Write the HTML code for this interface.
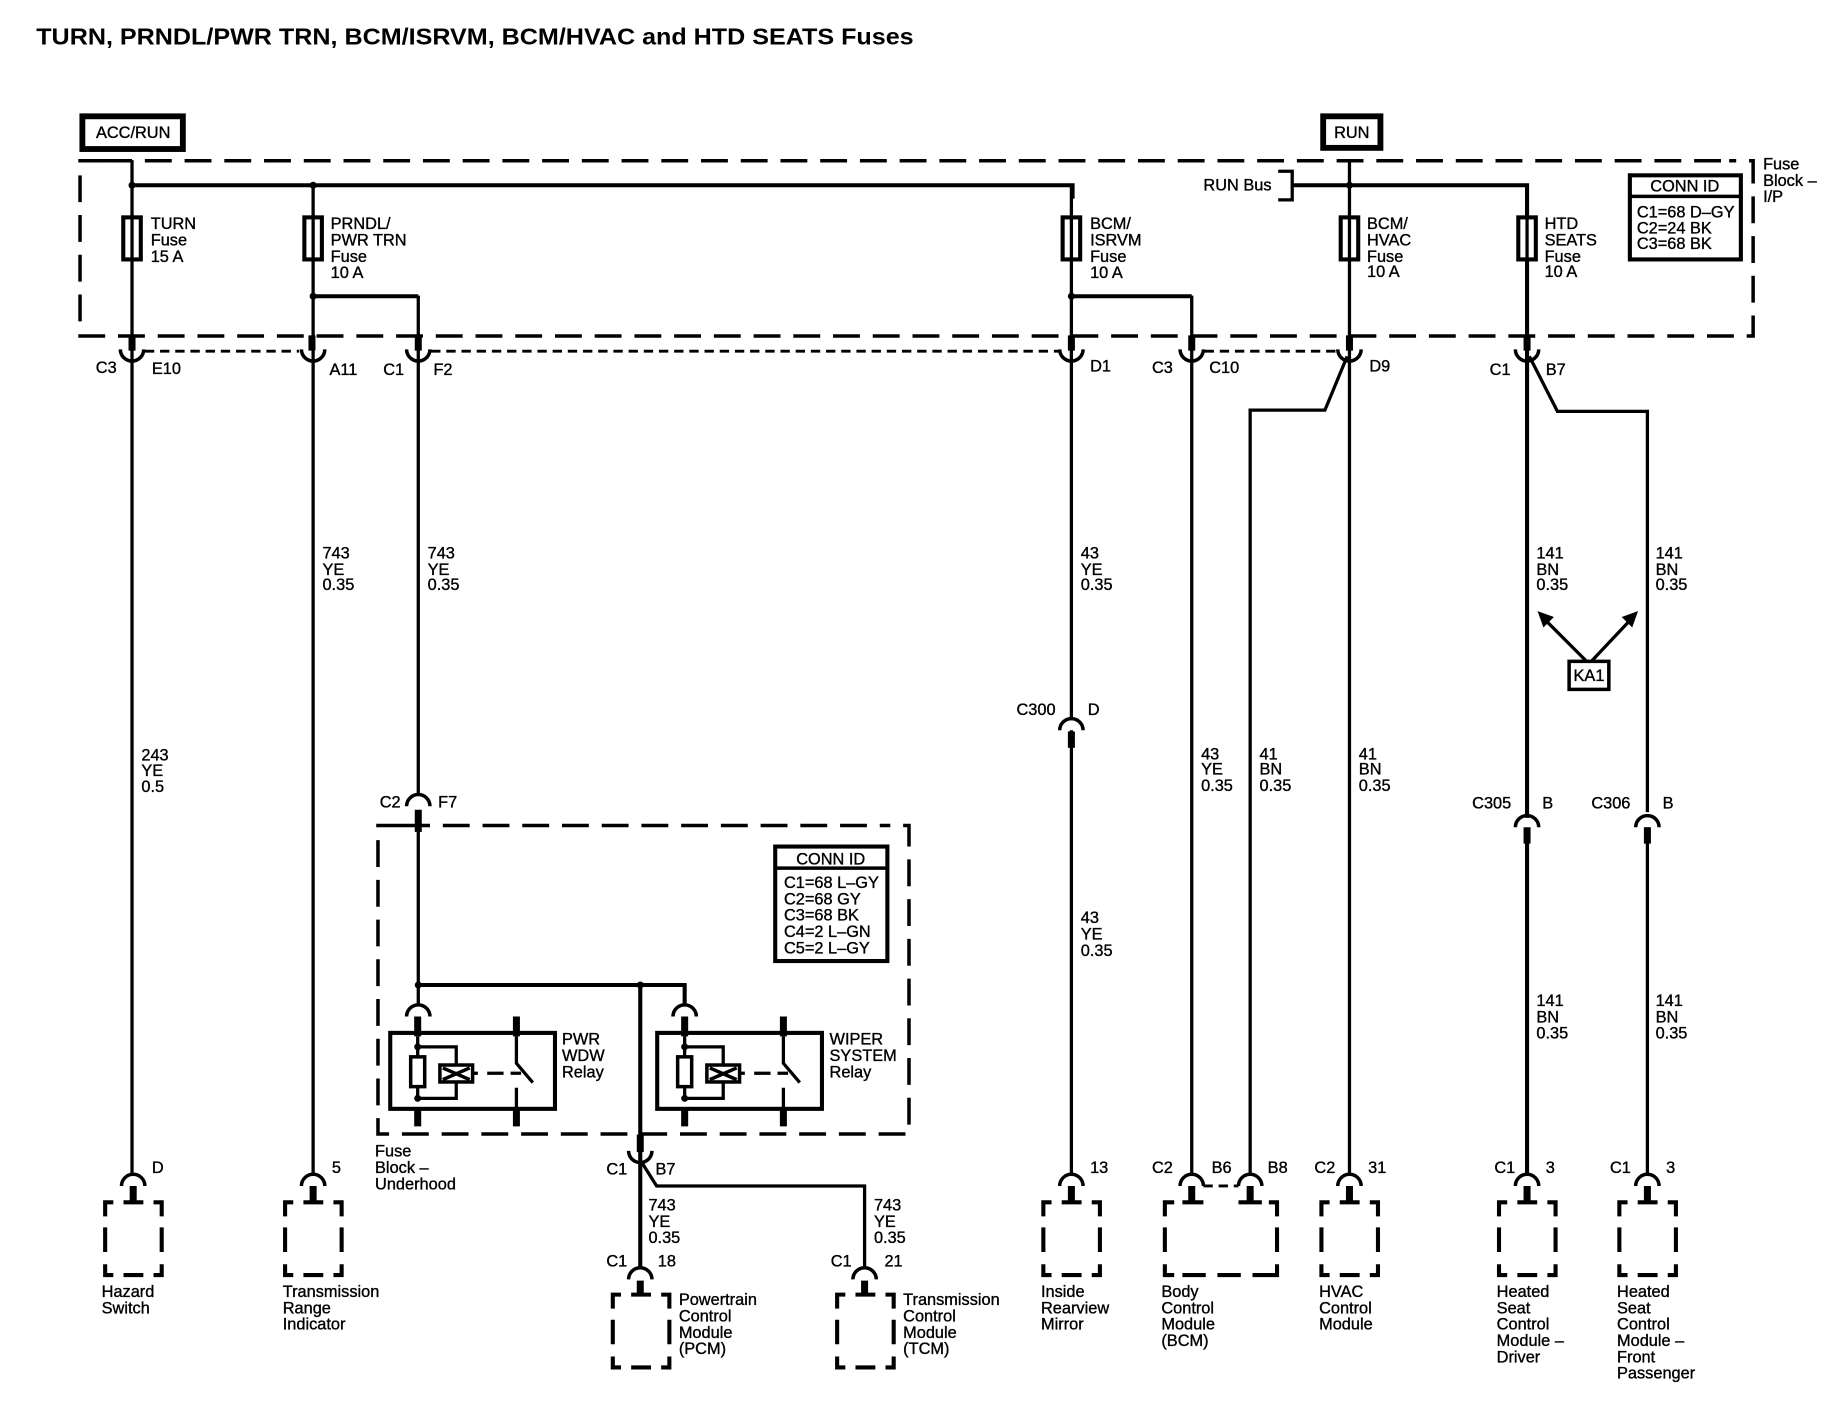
<!DOCTYPE html>
<html><head><meta charset="utf-8"><title>Fuses</title>
<style>
html,body{margin:0;padding:0;background:#fff}
svg{display:block;position:absolute;left:0;top:0}
text{font-family:"Liberation Sans",sans-serif;font-size:14px;fill:#000;stroke:#000;stroke-width:.3}
.w{fill:none;stroke:#000;stroke-width:2.8}
.k{fill:none;stroke:#000;stroke-width:3.5}
.d{fill:none;stroke:#000;stroke-width:3;stroke-dasharray:23 11}
.s{fill:none;stroke:#000;stroke-width:6}
.sd{fill:none;stroke:#000;stroke-width:2.5;stroke-dasharray:8 5}
</style></head><body>
<svg width="1832" height="1408" viewBox="0 0 1568 1205" xmlns="http://www.w3.org/2000/svg">
<defs>
<g id="fuse"><rect x="-7.5" y="186" width="15" height="36" fill="#fff" stroke="#000" stroke-width="3.5"/><path d="M0,186V222" class="w"/></g>
<g id="cup"><path d="M-10,0A10,10 0 0 0 10,0" fill="none" stroke="#000" stroke-width="3"/></g>
<g id="arch"><path d="M-10,10A10,10 0 0 1 10,10" fill="none" stroke="#000" stroke-width="3"/></g>
<g id="box"><path class="k" d="M0,12V0H7M15.700,0H32.700M41.400,0H48.400V12M0,21.500V42.500M48.400,21.500V42.500M0,53V62.300H7M15.700,62.300H32.700M41.400,62.300H48.400V53"/></g>
<g id="relay">
<rect x="0" y="0" width="141" height="65" fill="none" stroke="#000" stroke-width="3.5"/>
<path class="s" d="M23.5,-14V3M23.5,65V80M108,-14V3M108,65V80"/>
<path class="w" d="M23.5,3V56M23.5,12H56.5V27M56.5,42V56H23.5M108,3V26L122,42.5M108,47V65"/>
<circle cx="23.5" cy="12" r="3"/><circle cx="23.5" cy="56" r="3"/>
<rect x="17.5" y="20.5" width="12" height="25.5" fill="#fff" stroke="#000" stroke-width="3"/>
<rect x="42.5" y="27.5" width="28" height="14.5" fill="#fff" stroke="#000" stroke-width="3"/>
<path d="M45,30L68,40M45,40L68,30" stroke="#000" stroke-width="3"/>
<path d="M70,34.5H75M83,34.5H97M103,34.5H112" class="w"/>
</g>
</defs>

<text x="31" y="38" style="font-size:20px;font-weight:bold;stroke:none" textLength="751" lengthAdjust="spacingAndGlyphs">TURN, PRNDL/PWR TRN, BCM/ISRVM, BCM/HVAC and HTD SEATS Fuses</text>

<rect x="70.5" y="99.5" width="86" height="28" fill="none" stroke="#000" stroke-width="5"/>
<text x="114" y="118" text-anchor="middle">ACC/RUN</text>
<rect x="1132.5" y="99.5" width="49" height="27" fill="none" stroke="#000" stroke-width="5"/>
<text x="1157" y="118" text-anchor="middle">RUN</text>

<path class="d" d="M90,137.5H68.5V287.5H1500.5V137.5H1480M90,137.5H1480"/>
<text x="1509" y="145">Fuse</text><text x="1509" y="159">Block –</text><text x="1509" y="173">I/P</text>

<path class="w" d="M113,137V1005M268,158V1005M358,253V680M917,158V615M917,625V1005M1020,253V1005M1155,137V1005M1070,1005V351H1134L1153,305"/>
<path class="w" d="M1309,305L1333,352H1410V695M1410,708V1005"/>
<path class="w" style="stroke-width:3.5" d="M113,158.5H918V170M268,253.5H358M917,253.5H1020M1107,158.5H1307V190"/>
<path class="k" d="M1307,190V700M1307,715V1005"/>
<path class="w" d="M1094,146.5H1106V171H1094"/>
<text x="1030" y="163">RUN Bus</text>
<g fill="#000"><circle cx="113" cy="158.5" r="3"/><circle cx="268" cy="158.5" r="3"/><circle cx="268" cy="253.5" r="3"/><circle cx="917" cy="253.5" r="3"/><circle cx="1155" cy="158.5" r="3"/><circle cx="358" cy="843" r="3"/><circle cx="548" cy="843" r="3"/></g>

<use href="#fuse" x="113"/><use href="#fuse" x="268"/><use href="#fuse" x="917"/><use href="#fuse" x="1155"/><use href="#fuse" x="1307"/>
<text x="129" y="196">TURN</text><text x="129" y="210">Fuse</text><text x="129" y="224">15 A</text>
<text x="283" y="196">PRNDL/</text><text x="283" y="210">PWR TRN</text><text x="283" y="224">Fuse</text><text x="283" y="238">10 A</text>
<text x="933" y="196">BCM/</text><text x="933" y="210">ISRVM</text><text x="933" y="224">Fuse</text><text x="933" y="238">10 A</text>
<text x="1170" y="196">BCM/</text><text x="1170" y="210">HVAC</text><text x="1170" y="224">Fuse</text><text x="1170" y="237">10 A</text>
<text x="1322" y="196">HTD</text><text x="1322" y="210">SEATS</text><text x="1322" y="224">Fuse</text><text x="1322" y="237">10 A</text>

<rect x="1395" y="150" width="95" height="72" fill="#fff" stroke="#000" stroke-width="3.5"/>
<path d="M1395,168H1490" stroke="#000" stroke-width="3"/>
<text x="1442" y="164" text-anchor="middle">CONN ID</text>
<text x="1401" y="186">C1=68 D–GY</text><text x="1401" y="200">C2=24 BK</text><text x="1401" y="213">C3=68 BK</text>

<path class="s" d="M113,287V300M267,287V300M358,287V300M917,287V300M1020,287V300M1155,287V300M1307,287V300"/>
<path class="sd" d="M124,300.5H256M369,300.5H906M1031,300.5H1144"/>
<use href="#cup" x="113" y="299"/><use href="#cup" x="268" y="299"/><use href="#cup" x="358" y="299"/><use href="#cup" x="917" y="299"/><use href="#cup" x="1020" y="299"/><use href="#cup" x="1155" y="299"/><use href="#cup" x="1307" y="299"/>
<text x="82" y="319">C3</text><text x="130" y="320">E10</text><text x="282" y="321">A11</text><text x="328" y="321">C1</text><text x="371" y="321">F2</text><text x="933" y="318">D1</text><text x="986" y="319">C3</text><text x="1035" y="319">C10</text><text x="1172" y="318">D9</text><text x="1275" y="321">C1</text><text x="1323" y="321">B7</text>

<text x="121" y="651">243</text><text x="121" y="664">YE</text><text x="121" y="678">0.5</text>
<text x="276" y="478">743</text><text x="276" y="492">YE</text><text x="276" y="505">0.35</text>
<text x="366" y="478">743</text><text x="366" y="492">YE</text><text x="366" y="505">0.35</text>
<text x="925" y="478">43</text><text x="925" y="492">YE</text><text x="925" y="505">0.35</text>
<text x="1315" y="478">141</text><text x="1315" y="492">BN</text><text x="1315" y="505">0.35</text>
<text x="1417" y="478">141</text><text x="1417" y="492">BN</text><text x="1417" y="505">0.35</text>
<text x="1028" y="650">43</text><text x="1028" y="663">YE</text><text x="1028" y="677">0.35</text>
<text x="1078" y="650">41</text><text x="1078" y="663">BN</text><text x="1078" y="677">0.35</text>
<text x="1163" y="650">41</text><text x="1163" y="663">BN</text><text x="1163" y="677">0.35</text>
<text x="925" y="790">43</text><text x="925" y="804">YE</text><text x="925" y="818">0.35</text>
<text x="1315" y="861">141</text><text x="1315" y="875">BN</text><text x="1315" y="889">0.35</text>
<text x="1417" y="861">141</text><text x="1417" y="875">BN</text><text x="1417" y="889">0.35</text>

<rect x="1343" y="566" width="34" height="24" fill="#fff" stroke="#000" stroke-width="3"/>
<text x="1360" y="583" text-anchor="middle">KA1</text>
<path class="w" d="M1358,566L1323,531M1362,566L1395,531"/>
<path d="M1316,523L1330,528L1321,537ZM1402,523L1388,528L1397,537Z" fill="#000"/>

<use href="#arch" x="917" y="615"/><path class="s" d="M917,626V640"/>
<text x="870" y="612">C300</text><text x="931" y="612">D</text>
<use href="#arch" x="1307" y="698"/><path class="s" d="M1307,708V722"/>
<use href="#arch" x="1410" y="698"/><path class="s" d="M1410,708V722"/>
<text x="1260" y="692">C305</text><text x="1320" y="692">B</text><text x="1362" y="692">C306</text><text x="1423" y="692">B</text>
<use href="#arch" x="358" y="680"/><path class="s" d="M358,693V712"/>
<text x="325" y="691">C2</text><text x="375" y="691">F7</text>

<path class="d" d="M345,706.5H323.5V970.5H778V706.5H760M345,706.5H760"/>
<text x="321" y="990">Fuse</text><text x="321" y="1004">Block –</text><text x="321" y="1018">Underhood</text>
<rect x="663.5" y="724.5" width="96" height="98" fill="#fff" stroke="#000" stroke-width="3.5"/>
<path d="M663.5,743H759.5" stroke="#000" stroke-width="3"/>
<text x="711" y="740" text-anchor="middle">CONN ID</text>
<text x="671" y="760">C1=68 L–GY</text><text x="671" y="774">C2=68 GY</text><text x="671" y="788">C3=68 BK</text><text x="671" y="802">C4=2 L–GN</text><text x="671" y="816">C5=2 L–GY</text>

<path class="w" d="M358,712V860"/>
<path class="w" style="stroke-width:3.5" d="M358,843H586V860M548,843V1085"/>
<use href="#arch" x="358" y="860"/><use href="#arch" x="586" y="860"/>
<use href="#relay" x="334" y="884"/><use href="#relay" x="562.500" y="884"/>
<text x="481" y="894">PWR</text><text x="481" y="908">WDW</text><text x="481" y="922">Relay</text>
<text x="710" y="894">WIPER</text><text x="710" y="908">SYSTEM</text><text x="710" y="922">Relay</text>

<path class="s" d="M548,971V986"/>
<use href="#cup" x="548" y="985"/>
<path class="w" d="M550,996L562,1015H740V1085"/>
<text x="519" y="1005">C1</text><text x="561" y="1005">B7</text>
<text x="555" y="1036">743</text><text x="555" y="1050">YE</text><text x="555" y="1064">0.35</text>
<text x="748" y="1036">743</text><text x="748" y="1050">YE</text><text x="748" y="1064">0.35</text>
<text x="519" y="1084">C1</text><text x="563" y="1084">18</text><text x="711" y="1084">C1</text><text x="757" y="1084">21</text>

<g>
<use href="#arch" x="114" y="1005"/><use href="#arch" x="268" y="1005"/><use href="#arch" x="917" y="1005"/><use href="#arch" x="1020" y="1005"/><use href="#arch" x="1070" y="1005"/><use href="#arch" x="1155" y="1005"/><use href="#arch" x="1307" y="1005"/><use href="#arch" x="1410" y="1005"/>
<use href="#arch" x="548" y="1085"/><use href="#arch" x="740" y="1085"/>
<path class="s" d="M114,1015V1028M268,1015V1028M917,1015V1028M1020,1015V1028M1070,1015V1028M1155,1015V1028M1307,1015V1028M1410,1015V1028M548,1096V1108M740,1096V1108"/>
<path class="sd" d="M1030,1015H1060"/>
</g>
<text x="130" y="1004">D</text><text x="284" y="1004">5</text><text x="933" y="1004">13</text><text x="986" y="1004">C2</text><text x="1037" y="1004">B6</text><text x="1085" y="1004">B8</text><text x="1125" y="1004">C2</text><text x="1171" y="1004">31</text><text x="1279" y="1004">C1</text><text x="1323" y="1004">3</text><text x="1378" y="1004">C1</text><text x="1426" y="1004">3</text>

<use href="#box" x="90" y="1029"/><use href="#box" x="244" y="1029"/><use href="#box" x="893" y="1029"/><use href="#box" x="1131" y="1029"/><use href="#box" x="1283" y="1029"/><use href="#box" x="1386" y="1029"/>
<use href="#box" x="524.500" y="1108"/><use href="#box" x="716.500" y="1108"/>
<path class="k" d="M997,1041V1029H1005M1012,1029H1030M1060,1029H1080M1086,1029H1093V1041M997,1050.500V1071.500M1093,1050.500V1071.500M997,1082V1091.300H1005M1012,1091.300H1032M1042,1091.300H1062M1072,1091.300H1086M1086,1091.300H1093V1082"/>

<text x="87" y="1110">Hazard</text><text x="87" y="1124">Switch</text>
<text x="242" y="1110">Transmission</text><text x="242" y="1124">Range</text><text x="242" y="1138">Indicator</text>
<text x="891" y="1110">Inside</text><text x="891" y="1124">Rearview</text><text x="891" y="1138">Mirror</text>
<text x="994" y="1110">Body</text><text x="994" y="1124">Control</text><text x="994" y="1138">Module</text><text x="994" y="1152">(BCM)</text>
<text x="1129" y="1110">HVAC</text><text x="1129" y="1124">Control</text><text x="1129" y="1138">Module</text>
<text x="1281" y="1110">Heated</text><text x="1281" y="1124">Seat</text><text x="1281" y="1138">Control</text><text x="1281" y="1152">Module –</text><text x="1281" y="1166">Driver</text>
<text x="1384" y="1110">Heated</text><text x="1384" y="1124">Seat</text><text x="1384" y="1138">Control</text><text x="1384" y="1152">Module –</text><text x="1384" y="1166">Front</text><text x="1384" y="1180">Passenger</text>
<text x="581" y="1117">Powertrain</text><text x="581" y="1131">Control</text><text x="581" y="1145">Module</text><text x="581" y="1159">(PCM)</text>
<text x="773" y="1117">Transmission</text><text x="773" y="1131">Control</text><text x="773" y="1145">Module</text><text x="773" y="1159">(TCM)</text>
</svg>
</body></html>
